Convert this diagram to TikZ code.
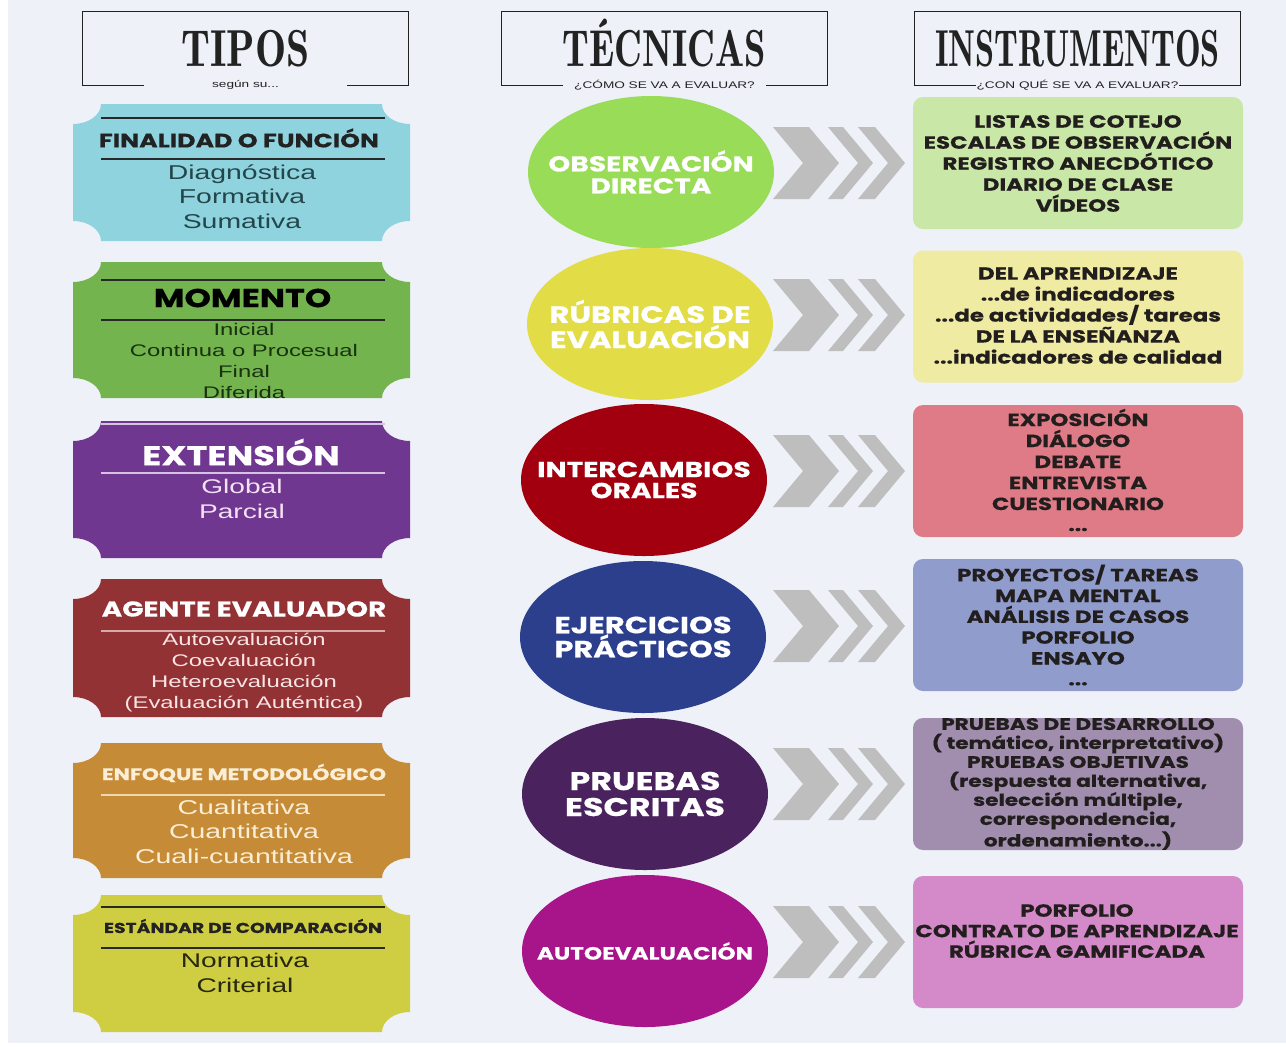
\documentclass[tikz,border=0pt]{standalone}
\usepackage{fontspec}
\setmainfont{Liberation Sans}[FakeStretch=1.42]
\newfontfamily\popfont{Poppins}[FakeStretch=1.3, BoldFeatures={FakeBold=0.5}]
\newfontfamily\titlefont{lmromandemi10-regular.otf}[FakeStretch=0.74]
\usetikzlibrary{shapes.geometric}
\definecolor{bgC}{RGB}{238,241,248}
\definecolor{inkC}{RGB}{34,34,34}
\definecolor{chevC}{RGB}{190,190,190}
\definecolor{finC}{RGB}{143,211,223}
\definecolor{momC}{RGB}{115,180,78}
\definecolor{extC}{RGB}{112,55,145}
\definecolor{ageC}{RGB}{147,50,52}
\definecolor{enfC}{RGB}{198,139,54}
\definecolor{estC}{RGB}{207,206,66}
\definecolor{darkL}{RGB}{40,40,40}
\definecolor{extL}{RGB}{215,195,225}
\definecolor{ageL}{RGB}{215,170,170}
\definecolor{enfL}{RGB}{240,215,175}
\definecolor{finT}{RGB}{35,70,75}
\definecolor{momT}{RGB}{25,50,15}
\definecolor{extT}{RGB}{245,225,245}
\definecolor{ageT}{RGB}{250,228,228}
\definecolor{enfT}{RGB}{250,238,215}
\definecolor{estT}{RGB}{40,40,15}
\definecolor{obsC}{RGB}{153,220,87}
\definecolor{rubC}{RGB}{226,220,71}
\definecolor{intC}{RGB}{162,0,15}
\definecolor{ejeC}{RGB}{44,63,141}
\definecolor{pruC}{RGB}{74,34,94}
\definecolor{autC}{RGB}{168,21,139}
\definecolor{inA}{RGB}{201,232,168}
\definecolor{inB}{RGB}{240,235,162}
\definecolor{inC}{RGB}{223,123,134}
\definecolor{inD}{RGB}{143,156,204}
\definecolor{inE}{RGB}{161,142,175}
\definecolor{inF}{RGB}{212,137,201}
\definecolor{insT}{RGB}{34,30,30}

\begin{document}
\begin{tikzpicture}[
				x=0.5pt, y=-0.5pt,
				title/.style={minimum width=162.5pt, minimum height=36.5pt, inner sep=0pt, text height=17.5pt, text depth=0pt, text=inkC, font=\titlefont\fontsize{26}{26}\selectfont},
				sub/.style={minimum width=101pt, inner sep=0pt, text=inkC, font=\fontsize{4.8}{5}\selectfont},
				frame/.style={draw=inkC, line width=0.75pt},
				thead/.style={inner sep=0pt, font=\popfont\bfseries\fontsize{#1}{#1}\selectfont},
				tbody/.style 2 args={align=center, inner sep=0pt, font=\fontsize{#1}{#2}\selectfont},
				bubble/.style={ellipse, minimum width=123pt, minimum height=76pt, inner sep=0pt},
				btext/.style 2 args={align=center, inner sep=0pt, text=white, font=\popfont\bfseries\fontsize{#1}{#2}\selectfont},
				insbox/.style={rounded corners=5pt, minimum width=165pt, minimum height=66pt, inner sep=0pt},
				instext/.style 2 args={align=center, inner sep=0pt, text=insT, font=\popfont\bfseries\fontsize{#1}{#2}\selectfont},
			]
			\path[use as bounding box, fill=white] (0,0) rectangle (1286,1046);
			\fill[bgC] (8,0) rectangle (1286,1043);

			\node[title] (tipos) at (245.5,48.5) {\scalebox{1.08}[1]{TIPOS}};
			\node[title] (tecnicas) at (664.5,48.5) {TÉCNICAS};
			\node[title] (instrumentos) at (1077.5,48.5) {\scalebox{0.89}[1]{INSTRUMENTOS}};
			\node[sub] (sTip) at (tipos.south) {según su...};
			\node[sub] (sTec) at (tecnicas.south) {¿CÓMO SE VA A EVALUAR?};
			\node[sub] (sIns) at (instrumentos.south) {¿CON QUÉ SE VA A EVALUAR?};
			\draw[frame] (sTip.west) -- (tipos.south west) -- (tipos.north west) -- (tipos.north east) -- (tipos.south east) -- (sTip.east);
			\draw[frame] (sTec.west) -- (tecnicas.south west) -- (tecnicas.north west) -- (tecnicas.north east) -- (tecnicas.south east) -- (sTec.east);
			\draw[frame] (sIns.west) -- (instrumentos.south west) -- (instrumentos.north west) -- (instrumentos.north east) -- (instrumentos.south east) -- (sIns.east);

			\foreach \T/\B/\fc/\lc/\lb in {104/241/finC/darkL/159, 262/398/momC/darkL/320, 421/558/extC/extL/473, 579/717/ageC/ageL/631, 743/878/enfC/enfL/795, 895/1032/estC/darkL/948}{
				\fill[\fc] (73,\T+20) arc(90:0:28 and 20) -- (382,\T) arc(180:90:28 and 20) -- (410,\B-20) arc(270:180:28 and 20) -- (101,\B) arc(0:-90:28 and 20) -- cycle;
				\draw[\lc, line width=0.75pt] (101,\lb) -- (385,\lb);
			}
			\draw[darkL, line width=0.75pt] (101,118) -- (385,118);
			\draw[darkL, line width=0.75pt] (101,280) -- (385,280);
			\draw[extL, line width=0.75pt] (101,424) -- (385,424);
			\draw[darkL, line width=0.75pt] (101,907) -- (385,907);

			\node[thead=9.7, text=inkC] (hFin) at (239,138) {FINALIDAD O FUNCIÓN};
			\node[tbody={10}{12.25}, text=finT] (bFin) at (242,196.5) {Diagnóstica\\Formativa\\Sumativa};
			\node[thead=12.9, text=black] (hMom) at (242.5,298) {MOMENTO};
			\node[tbody={8.4}{10.35}, text=momT] (bMom) at (244,361) {Inicial\\Continua o Procesual\\Final\\Diferida};
			\node[thead=13.6, text=white] (hExt) at (241,452) {EXTENSIÓN};
			\node[tbody={9.9}{12.5}, text=extT] (bExt) at (242,498.5) {Global\\Parcial};
			\node[thead=10.7, text=white] (hAge) at (244,609) {AGENTE EVALUADOR};
			\node[tbody={8.4}{10.5}, text=ageT] (bAge) at (244,672.5) {Autoevaluación\\Coevaluación\\Heteroevaluación\\(Evaluación Auténtica)};
			\node[thead=8.35, text=enfT] (hEnf) at (244,773) {ENFOQUE METODOLÓGICO};
			\node[tbody={10}{12.25}, text=enfT] (bEnf) at (244,831.5) {Cualitativa\\Cuantitativa\\Cuali-cuantitativa};
			\node[thead=7.2, text=inkC] (hEst) at (243,926) {ESTÁNDAR DE COMPARACIÓN};
			\node[tbody={9.9}{12.5}, text=estT] (bEst) at (245,972.5) {Normativa\\Criterial};

			\foreach \y in {163,315,471,626,784,942}
				\foreach \x/\w in {773/36, 828/15, 858/17}
					\fill[chevC] (\x,\y-36) -- ++(\w,0) -- ++(30,36) -- ++(-30,36) -- ++(-\w,0) -- ++(30,-36) -- cycle;

			\node[bubble, fill=obsC] (obs) at (651,172) {};
			\node[bubble, fill=rubC] (rub) at (650,324) {};
			\node[bubble, fill=intC] (inter) at (644,480) {};
			\node[bubble, fill=ejeC] (ejer) at (643,637) {};
			\node[bubble, fill=pruC] (prue) at (645,794) {};
			\node[bubble, fill=autC] (autoev) at (645,951) {};
			\node[btext={10.8}{11}] (obsT) at (obs) {OBSERVACIÓN\\DIRECTA};
			\node[btext={11.8}{11.5}] (rubT) at (rub.center) {RÚBRICAS DE\\EVALUACIÓN};
			\node[btext={10.8}{10.5}] (interT) at (inter.center) {INTERCAMBIOS\\ORALES};
			\node[btext={11.7}{12}] (ejerT) at (ejer.center) {EJERCICIOS\\PRÁCTICOS};
			\node[btext={12.8}{13}] (prueT) at (prue.center) {PRUEBAS\\ESCRITAS};
			\node[btext={8.9}{9}] (autoevT) at (autoev.center) {AUTOEVALUACIÓN};

			\node[insbox, fill=inA] (insA) at (1078,163) {};
			\node[insbox, fill=inB] (insB) at (1078,316.5) {};
			\node[insbox, fill=inC] (insC) at (1078,471) {};
			\node[insbox, fill=inD] (insD) at (1078,625) {};
			\node[insbox, fill=inE] (insE) at (1078,784) {};
			\node[insbox, fill=inF] (insF) at (1078,942) {};
			\node[instext={8.8}{10.5}] (insAT) at (1078,163.5) {LISTAS DE COTEJO\\ESCALAS DE OBSERVACIÓN\\REGISTRO ANECDÓTICO\\DIARIO DE CLASE\\VÍDEOS};
			\node[instext={8.8}{10.5}] (insBT) at (1078,315.5) {DEL APRENDIZAJE\\...de indicadores\\...de actividades/ tareas\\DE LA ENSEÑANZA\\...indicadores de calidad};
			\node[instext={8.8}{10.5}] (insCT) at (1078,470) {EXPOSICIÓN\\DIÁLOGO\\DEBATE\\ENTREVISTA\\CUESTIONARIO\\...};
			\node[instext={8.8}{10.4}] (insDT) at (1078,625) {PROYECTOS/ TAREAS\\MAPA MENTAL\\ANÁLISIS DE CASOS\\PORFOLIO\\ENSAYO\\...};
			\node[instext={8.3}{9.5}] (insET) at (1078,784) {PRUEBAS DE DESARROLLO\\( temático, interpretativo)\\PRUEBAS OBJETIVAS\\(respuesta alternativa,\\selección múltiple,\\correspondencia,\\ordenamiento...)};
			\node[instext={8.8}{10.25}] (insFT) at (1077,931) {PORFOLIO\\CONTRATO DE APRENDIZAJE\\RÚBRICA GAMIFICADA};
		\end{tikzpicture}
\end{document}
